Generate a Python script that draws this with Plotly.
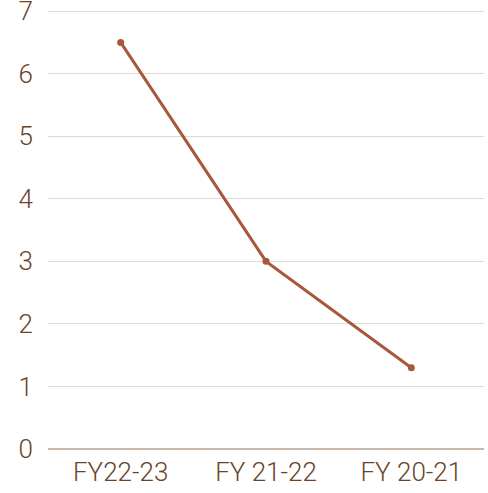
import plotly.graph_objects as go

categories = ["FY22-23", "FY 21-22", "FY 20-21"]
values = [6.5, 3.0, 1.3]

line_color = "#a8583a"
text_color = "#6b4427"

fig = go.Figure(go.Scatter(
    x=categories, y=values, mode="lines+markers",
    line=dict(color=line_color, width=3),
    marker=dict(color=line_color, size=7),
    cliponaxis=False,
))

fig.update_layout(
    width=488, height=493,
    margin=dict(l=48, r=4, t=8, b=44),
    paper_bgcolor="white", plot_bgcolor="white",
    font=dict(family="Roboto", size=26, color=text_color, weight=300),
    showlegend=False,
    xaxis=dict(showgrid=False, showline=False, zeroline=False, ticks="",
               range=[-0.5, 2.5], automargin=False, ticklabelstandoff=5,
               tickfont=dict(size=26, color=text_color, weight=300)),
    yaxis=dict(range=[0, 7.05], tickvals=[0, 1, 2, 3, 4, 5, 6, 7],
               showgrid=True, gridcolor="#e3d8cf", gridwidth=1,
               zeroline=True, zerolinecolor="#c8b8aa", zerolinewidth=1.5,
               showline=False, ticks="", automargin=False,
               ticklabeloverflow="allow", ticklabelstandoff=14,
               tickfont=dict(size=26, color=text_color, weight=300)),
)

fig.write_html("out.html", config={"displayModeBar": False},
               post_script="document.body.style.margin='0';document.body.style.padding='0';")
